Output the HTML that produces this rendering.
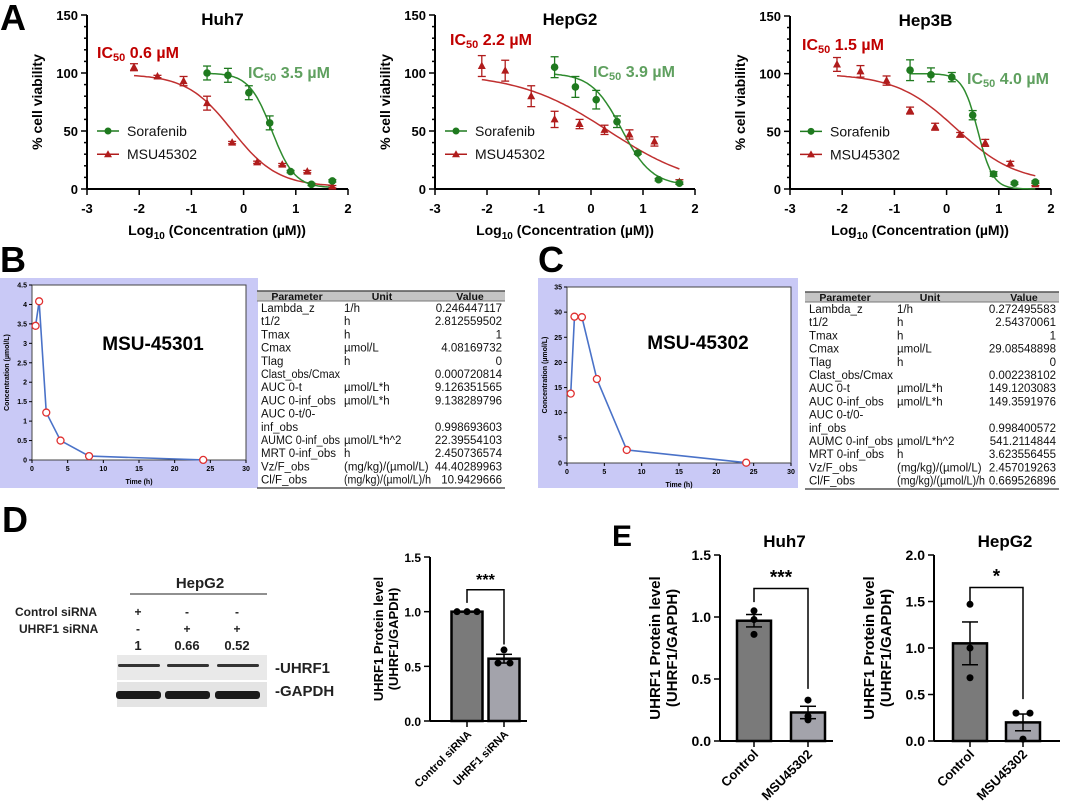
<!DOCTYPE html>
<html><head><meta charset="utf-8">
<style>
html,body{margin:0;padding:0;background:#fff;}
svg{display:block;font-family:"Liberation Sans",Arial,sans-serif;}
</style></head>
<body>
<svg id="fig" width="1080" height="811" viewBox="0 0 1080 811"></svg>
<script>
// ---------- Panel A data ----------
const drDoseMsu=[-2.1,-1.65,-1.15,-0.7,-0.22,0.26,0.74,1.22,1.7];
const drDoseSora=[-0.7,-0.3,0.1,0.5,0.9,1.3,1.7];
const xTicks=[-3,-2,-1,0,1,2];
const yTicksA=[0,50,100,150];
const huh7Msu=[105,97,93,74,40,23,21,15,2];
const huh7MsuErr=[3,1,4,6,1,1,1,1,1];
const huh7Sora=[100,98,83,57,15,4,7];
const huh7SoraErr=[6,6,6,6,1,1,1];
const huh7MsuFit=[99,2,-0.22,1.0];
const huh7SoraFit=[100,1,0.54,2.0];
const hepg2Msu=[106,102,80,60,56,51,47,41,6];
const hepg2MsuErr=[9,9,9,7,4,4,4,4,2];
const hepg2Sora=[105,88,77,58,31,8,5];
const hepg2SoraErr=[9,9,8,5,1,1,1];
const hepg2MsuFit=[100,0,0.34,0.5];
const hepg2SoraFit=[100,3,0.59,1.5];
const hep3bMsu=[108,102,94,68,54,47,40,22,4];
const hep3bMsuErr=[6,5,4,3,3,2,3,2,1];
const hep3bSora=[103,99,97,64,13,5,6];
const hep3bSoraErr=[9,6,4,4,2,1,1];
const hep3bMsuFit=[100,5,0.18,0.75];
const hep3bSoraFit=[100,0,0.6,3.0];
// ---------- Panel B/C data ----------
const pkTime=[0.5,1,2,4,8,24];
const pkConcB=[3.45,4.08,1.22,0.5,0.1,0.003];
const pkConcC=[13.8,29.1,29.0,16.7,2.6,0.06];
const pkParams=["Lambda_z","t1/2","Tmax","Cmax","Tlag","Clast_obs/Cmax","AUC 0-t","AUC 0-inf_obs","AUC 0-t/0-","inf_obs","AUMC 0-inf_obs","MRT 0-inf_obs","Vz/F_obs","Cl/F_obs"];
const pkUnits=["1/h","h","h","µmol/L","h","","µmol/L*h","µmol/L*h","","","µmol/L*h^2","h","(mg/kg)/(µmol/L)","(mg/kg)/(µmol/L)/h"];
const pkValuesB=["0.246447117","2.812559502","1","4.08169732","0","0.000720814","9.126351565","9.138289796","","0.998693603","22.39554103","2.450736574","44.40289963","10.9429666"];
const pkValuesC=["0.272495583","2.54370061","1","29.08548898","0","0.002238102","149.1203083","149.3591976","","0.998400572","541.2114844","3.623556455","2.457019263","0.669526896"];
// ---------- Panel D/E data ----------
const barCats=["Control siRNA","UHRF1 siRNA"];
const dMeans=[1.0,0.57];
const dSems=[0.0,0.04];
const dPoints=[[1.0,1.0,1.0],[0.65,0.53,0.53]];
const eCats=["Control","MSU45302"];
const eHuh7Means=[0.97,0.23];
const eHuh7Sems=[0.05,0.05];
const eHuh7Points=[[1.05,0.98,0.86],[0.33,0.2,0.17]];
const eHepg2Means=[1.05,0.2];
const eHepg2Sems=[0.23,0.09];
const eHepg2Points=[[1.47,1.0,0.68],[0.3,0.3,0.02]];
const blotRatios=["1","0.66","0.52"];

const NS='http://www.w3.org/2000/svg';
const svg=document.getElementById('fig');
function mk(tag,attrs,name,parent){
  const el=document.createElementNS(NS,tag);
  for(const k in attrs) el.setAttribute(k,attrs[k]);
  
  
  (parent||svg).appendChild(el);
  return el;
}
function txt(x,y,s,size,weight,fill,anchor,name,extra){
  const a={x:x,y:y,'font-size':size,'font-weight':weight,fill:fill,'text-anchor':anchor};
  if(extra) for(const k in extra) a[k]=extra[k];
  const t=mk('text',a,name);
  t.textContent=s;
  return t;
}
function fit(t,maxW){
  if(t.getComputedTextLength()>maxW){t.setAttribute('textLength',maxW);t.setAttribute('lengthAdjust','spacingAndGlyphs');}
}
function line(x1,y1,x2,y2,stroke,w,name,g){return mk('line',{x1:x1,y1:y1,x2:x2,y2:y2,stroke:stroke,'stroke-width':w},name,g);}

// panel letters
txt(0,30,"A",36,"bold","#000","start","panel-label-a");
txt(0,272,"B",36,"bold","#000","start","panel-label-b");
txt(538,272,"C",36,"bold","#000","start","panel-label-c");
txt(2,532,"D",36,"bold","#000","start","panel-label-d");
txt(612,546,"E",30,"bold","#000","start","panel-label-e");

// ---------- dose response ----------
function drawDR(c){
  const g=mk('g',{},c.name);
  const sx=v=>c.x0+(v+3)*(c.x1-c.x0)/5;
  const sy=v=>c.yb-v*(c.yb-c.yt)/150;
  line(c.x0,c.yt,c.x0,c.yb,"#000",2,"y-axis",g);
  line(c.x0,c.yb,c.x1,c.yb,"#000",2,"x-axis",g);
  for(let v=0;v<=150;v+=10){
    const major=yTicksA.includes(v);
    line(c.x0-(major?6:3),sy(v),c.x0,sy(v),"#000",1.5,"y-tick",g);
  }
  yTicksA.forEach(v=>txt(c.x0-9,sy(v)+5,String(v),13,"bold","#000","end","y-tick-label"));
  xTicks.forEach(v=>{line(sx(v),c.yb,sx(v),c.yb+6,"#000",1.5,"x-tick",g);txt(sx(v),c.yb+24,String(v),13,"bold","#000","middle","x-tick-label");});
  const xl=txt(c.x0+130,c.yb+46,"",14,"bold","#000","middle","x-axis-title");
  xl.innerHTML='Log<tspan font-size="10" dy="4">10</tspan><tspan dy="-4"> (Concentration (µM))</tspan>';
  txt(0,0,"% cell viability",14,"bold","#000","middle","y-axis-title",{transform:`translate(${c.x0-45},${(c.yt+c.yb)/2}) rotate(-90)`});
  txt((c.x0+c.x1)/2+5,c.yt+10,c.title,17,"bold","#000","middle","chart-title");
  const ic1=txt(c.redX,c.redY,"",16,"bold","#c00000","start","ic50-msu-label");
  ic1.innerHTML='IC<tspan font-size="11" dy="3">50</tspan><tspan dy="-3"> '+c.redIC+'</tspan>';
  const ic2=txt(c.grnX,c.grnY,"",16,"bold","#5fa05f","start","ic50-sorafenib-label");
  ic2.innerHTML='IC<tspan font-size="11" dy="3">50</tspan><tspan dy="-3"> '+c.grnIC+'</tspan>';
  function curve(fit,from,to,col,name){
    let d='';
    for(let i=0;i<=80;i++){const x=from+(to-from)*i/80;const y=fit[1]+(fit[0]-fit[1])/(1+Math.pow(10,(x-fit[2])*fit[3]));d+=(i?'L':'M')+sx(x).toFixed(1)+','+sy(y).toFixed(1);}
    mk('path',{d:d,fill:'none',stroke:col,'stroke-width':1.5},name,g);
  }
  curve(c.msuFit,-2.1,1.7,"#c03030","msu-fit-curve");
  curve(c.soraFit,-0.7,1.7,"#2e8b2e","sorafenib-fit-curve");
  function pts(xs,ys,es,col,shape,name){
    xs.forEach((x,i)=>{
      const px=sx(x),py=sy(ys[i]),e=es[i]*(c.yb-c.yt)/150;
      line(px,py-e,px,py+e,col,1.3,name+"-errorbar",g);
      line(px-4,py-e,px+4,py-e,col,1.3,name+"-errorcap",g);
      line(px-4,py+e,px+4,py+e,col,1.3,name+"-errorcap",g);
      if(shape==='c') mk('circle',{cx:px,cy:py,r:3.8,fill:col},name+"-point",g);
      else mk('polygon',{points:`${px},${py-4.5} ${px-4},${py+3} ${px+4},${py+3}`,fill:col},name+"-point",g);
    });
  }
  pts(drDoseMsu,c.msu,c.msuErr,"#b01c1c",'t',"msu");
  pts(drDoseSora,c.sora,c.soraErr,"#1f7a1f",'c',"sorafenib");
  const ly1=sy(50),ly2=sy(30);
  line(c.x0+10,ly1,c.x0+32,ly1,"#1f7a1f",1.5,"legend-sorafenib-line",g);
  mk('circle',{cx:c.x0+21,cy:ly1,r:3.5,fill:"#1f7a1f"},"legend-sorafenib-marker",g);
  txt(c.x0+40,ly1+5,"Sorafenib",14,"normal","#111","start","legend-sorafenib-label");
  line(c.x0+10,ly2,c.x0+32,ly2,"#b01c1c",1.5,"legend-msu-line",g);
  mk('polygon',{points:`${c.x0+21},${ly2-4} ${c.x0+17},${ly2+3} ${c.x0+25},${ly2+3}`,fill:"#b01c1c"},"legend-msu-marker",g);
  txt(c.x0+40,ly2+5,"MSU45302",14,"normal","#111","start","legend-msu-label");
}
drawDR({name:"huh7-dose-response",x0:87,x1:348,yt:15,yb:189,title:"Huh7",msu:huh7Msu,msuErr:huh7MsuErr,sora:huh7Sora,soraErr:huh7SoraErr,msuFit:huh7MsuFit,soraFit:huh7SoraFit,redX:97,redY:58,redIC:"0.6 µM",grnX:248,grnY:78,grnIC:"3.5 µM"});
drawDR({name:"hepg2-dose-response",x0:435,x1:695,yt:15,yb:189,title:"HepG2",msu:hepg2Msu,msuErr:hepg2MsuErr,sora:hepg2Sora,soraErr:hepg2SoraErr,msuFit:hepg2MsuFit,soraFit:hepg2SoraFit,redX:450,redY:45,redIC:"2.2 µM",grnX:593,grnY:77,grnIC:"3.9 µM"});
drawDR({name:"hep3b-dose-response",x0:790,x1:1051,yt:16,yb:189,title:"Hep3B",msu:hep3bMsu,msuErr:hep3bMsuErr,sora:hep3bSora,soraErr:hep3bSoraErr,msuFit:hep3bMsuFit,soraFit:hep3bSoraFit,redX:802,redY:50,redIC:"1.5 µM",grnX:967,grnY:84,grnIC:"4.0 µM"});

// ---------- PK plots ----------
function drawPK(c){
  const g=mk('g',{},c.name);
  mk('rect',{x:c.bx,y:278,width:c.bw,height:210,fill:"#c9c9f6"},"pk-background",g);
  mk('rect',{x:c.l,y:c.t,width:c.r-c.l,height:c.b-c.t,fill:"#fff",stroke:"#444","stroke-width":1},"pk-plot-area",g);
  const sx=v=>c.l+v*(c.r-c.l)/30, sy=v=>c.b-v*(c.b-c.t)/c.ymax;
  for(let v=0;v<=30;v+=5){line(sx(v),c.b,sx(v),c.b+3,"#000",1,"x-tick",g);txt(sx(v),c.b+11,String(v),7,"bold","#000","middle","x-tick-label");}
  for(let v=0;v<=c.ymax+1e-9;v+=c.step){line(c.l-3,sy(v),c.l,sy(v),"#000",1,"y-tick",g);txt(c.l-5,sy(v)+2.5,String(Math.round(v*10)/10),7,"bold","#000","end","y-tick-label");}
  txt((c.l+c.r)/2,c.b+24,"Time (h)",7,"bold","#000","middle","x-axis-title");
  txt(0,0,"Concentration (µmol/L)",7,"bold","#000","middle","y-axis-title",{transform:`translate(${c.bx+9},${(c.t+c.b)/2}) rotate(-90)`});
  let d='';
  pkTime.forEach((t,i)=>{d+=(i?'L':'M')+sx(t)+','+sy(c.conc[i]);});
  mk('path',{d:d,fill:'none',stroke:'#4a72c8','stroke-width':1.6},"pk-line",g);
  pkTime.forEach((t,i)=>mk('circle',{cx:sx(t),cy:sy(c.conc[i]),r:3.5,fill:'#fff',stroke:'#e03030','stroke-width':1.3},"pk-point",g));
  txt(c.labelX,c.labelY,c.label,19,"bold","#000","middle","compound-label");
}
drawPK({name:"pk-plot-msu45301",bx:0,bw:258,l:32,r:246,t:285,b:460,ymax:4.5,step:0.5,conc:pkConcB,label:"MSU-45301",labelX:153,labelY:350});
drawPK({name:"pk-plot-msu45302",bx:538,bw:260,l:567,r:791,t:287,b:463,ymax:35,step:5,conc:pkConcC,label:"MSU-45302",labelX:698,labelY:349});

function drawTable(c){
  const g=mk('g',{},c.name);
  mk('rect',{x:c.x,y:c.y,width:c.w,height:10,fill:"#c4c4c4"},"table-header-band",g);
  line(c.x,c.y,c.x+c.w,c.y,"#555",1.5,"table-top-rule",g);
  line(c.x,c.y+10,c.x+c.w,c.y+10,"#777",1,"table-header-rule",g);
  txt(c.x+40,c.y+9,"Parameter",10.5,"bold","#111","middle","header-parameter");
  txt(c.x+125,c.y+9,"Unit",10.5,"bold","#111","middle","header-unit");
  txt(c.x+c.w-35,c.y+9,"Value",10.5,"bold","#111","middle","header-value");
  pkParams.forEach((p,i)=>{
    const y=c.y+21+i*13.2;
    const t1=txt(c.x+4,y,p,11.5,"normal","#111","start","param-name");
    fit(t1,c.ux-8);
    if(pkUnits[i]){const t2=txt(c.x+c.ux,y,pkUnits[i],11.5,"normal","#111","start","param-unit");fit(t2,c.w-c.ux-74);}
    if(c.vals[i]){const t3=txt(c.x+c.w-3,y,c.vals[i],11.5,"normal","#111","end","param-value");fit(t3,68);}
  });
  line(c.x,c.y+197,c.x+c.w,c.y+197,"#555",1.5,"table-bottom-rule",g);
}
drawTable({name:"pk-table-msu45301",x:257,y:291,w:248,ux:87,vals:pkValuesB});
drawTable({name:"pk-table-msu45302",x:805,y:292,w:254,ux:92,vals:pkValuesC});

// ---------- western blot ----------
const gb=mk('g',{},"western-blot");
txt(200,588,"HepG2",15,"bold","#222","middle","blot-cell-line");
line(130,594,267,594,"#222",1,"blot-header-rule",gb);
txt(15,616,"Control siRNA",12,"bold","#222","start","control-sirna-row-label");
txt(19,633,"UHRF1 siRNA",12,"bold","#222","start","uhrf1-sirna-row-label");
const laneX=[138,187,237];
const ctrlSign=["+","-","-"], uhrfSign=["-","+","+"];
laneX.forEach((x,i)=>{
  txt(x,616,ctrlSign[i],12,"bold","#222","middle","control-sign");
  txt(x,633,uhrfSign[i],12,"bold","#222","middle","uhrf1-sign");
  txt(x,650,blotRatios[i],13,"bold","#222","middle","band-ratio");
});
mk('rect',{x:117,y:655,width:150,height:25,fill:"#e9e9e9"},"uhrf1-blot",gb);
mk('rect',{x:117,y:682,width:150,height:25,fill:"#e4e4e4"},"gapdh-blot",gb);
laneX.forEach(x=>{
  mk('rect',{x:x-20,y:664,width:42,height:3,fill:"#333",rx:1.5},"uhrf1-band",gb);
  mk('rect',{x:x-22,y:691,width:45,height:8,fill:"#1a1a1a",rx:3},"gapdh-band",gb);
});
txt(275,673,"-UHRF1",15,"bold","#222","start","uhrf1-band-label");
txt(275,696,"-GAPDH",15,"bold","#222","start","gapdh-band-label");

// ---------- bar charts ----------
function drawBars(c){
  const g=mk('g',{},c.name);
  const sy=v=>c.yb-v*(c.yb-c.yt)/c.ymax;
  const cx=i=>c.ax+c.off+i*c.sp;
  line(c.ax,c.yt,c.ax,c.yb,"#000",2,"y-axis",g);
  line(c.ax,c.yb,c.xend,c.yb,"#000",2,"x-axis",g);
  for(let v=0;v<=c.ymax+1e-9;v+=c.step){line(c.ax-6,sy(v),c.ax,sy(v),"#000",1.5,"y-tick",g);txt(c.ax-9,sy(v)+5,v.toFixed(1),c.fs,"bold","#000","end","y-tick-label");}
  if(c.title) txt((c.ax+c.xend)/2+8,c.yt-8,c.title,17,"bold","#000","middle","chart-title");
  txt(0,0,"UHRF1 Protein level",c.ls,"bold","#000","middle","y-axis-title",{transform:`translate(${c.ax-c.lx1},${(c.yt+c.yb)/2}) rotate(-90)`});
  txt(0,0,"(UHRF1/GAPDH)",c.ls,"bold","#000","middle","y-axis-title-unit",{transform:`translate(${c.ax-c.lx2},${(c.yt+c.yb)/2}) rotate(-90)`});
  const fills=["#7a7a7a","#a3a3ab"];
  c.means.forEach((m,i)=>{
    const x=cx(i);
    mk('rect',{x:x-c.bw/2,y:sy(m),width:c.bw,height:sy(0)-sy(m),fill:fills[i],stroke:"#000","stroke-width":2.5},"bar-"+c.cats[i].toLowerCase().replace(/\s+/g,'-'),g);
    const e=c.sems[i];
    if(e>0){line(x,sy(m-e),x,sy(m+e),"#000",1.5,"error-bar",g);
      line(x-8,sy(m+e),x+8,sy(m+e),"#000",1.5,"error-cap",g);
      line(x-8,sy(m-e),x+8,sy(m-e),"#000",1.5,"error-cap",g);}
    const jit=c.jit[i];
    c.pts[i].forEach((p,k)=>mk('circle',{cx:x+jit[k],cy:sy(p),r:3.5,fill:"#000"},"data-point",g));
    line(x,c.yb,x,c.yb+6,"#000",1.5,"x-tick",g);
    txt(0,0,c.cats[i],c.cfs,"bold","#000","end","x-category-label",{transform:`translate(${x+5},${c.yb+14}) rotate(-45)`});
  });
  const br=c.br;
  mk('path',{d:`M${cx(0)},${sy(br[1])}V${sy(br[0])}H${cx(1)}V${sy(br[2])}`,fill:"none",stroke:"#000","stroke-width":1.5},"significance-bracket",g);
  txt((cx(0)+cx(1))/2,sy(br[0])-5,c.stars,c.starSize,"bold","#000","middle","significance-stars");
}
drawBars({name:"d-uhrf1-knockdown-bars",ax:430,xend:527,yt:557,yb:721,ymax:1.5,step:0.5,off:37,sp:37,bw:31,cats:barCats,means:dMeans,sems:dSems,pts:dPoints,jit:[[-10,0,10],[0,-6,6]],br:[1.2,1.08,0.7],stars:"***",starSize:16,fs:12,ls:13,lx1:47,lx2:32,cfs:11});
drawBars({name:"e-huh7-bars",ax:720,xend:833,yt:555,yb:741,ymax:1.5,step:0.5,off:34,sp:54,bw:34,cats:eCats,means:eHuh7Means,sems:eHuh7Sems,pts:eHuh7Points,jit:[[0,0,0],[0,0,0]],br:[1.23,1.12,0.42],stars:"***",starSize:19,fs:14,ls:15,lx1:60,lx2:43,cfs:13,title:"Huh7"});
drawBars({name:"e-hepg2-bars",ax:934,xend:1060,yt:555,yb:741,ymax:2.0,step:0.5,off:36,sp:53,bw:34,cats:eCats,means:eHepg2Means,sems:eHepg2Sems,pts:eHepg2Points,jit:[[0,0,0],[-7,7,0]],br:[1.65,1.5,0.45],stars:"*",starSize:19,fs:14,ls:15,lx1:60,lx2:43,cfs:13,title:"HepG2"});
</script>
</body></html>
